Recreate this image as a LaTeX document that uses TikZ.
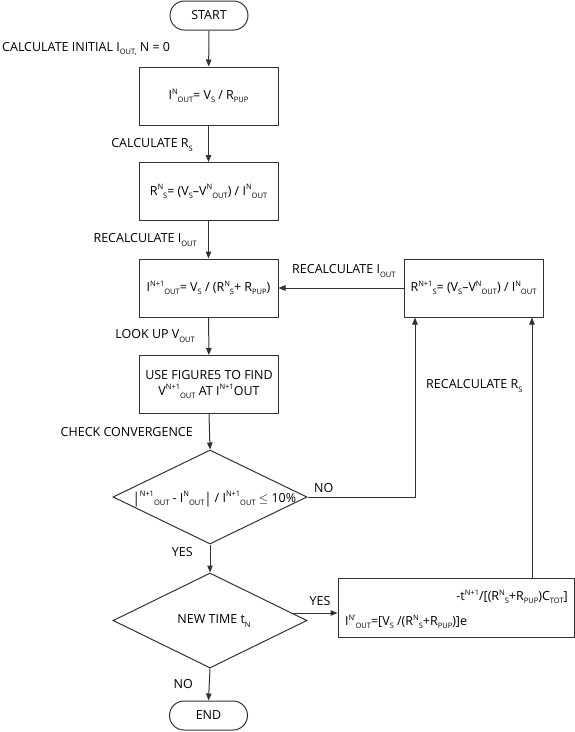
\documentclass[tikz,border=0pt]{standalone}
\usepackage{fontspec}
\setmainfont{Open Sans}
\usetikzlibrary{arrows.meta,shapes.geometric,calc}
\newcommand{\sbs}[1]{\raisebox{-0.5ex}{\fontsize{7.5}{7.5}\selectfont #1}}
\newcommand{\sps}[1]{\raisebox{0.8ex}{\fontsize{7.5}{7.5}\selectfont #1}}
\definecolor{ln}{RGB}{50,50,50}
\begin{document}
\begin{tikzpicture}[x=1pt,y=-1pt,
  every node/.style={font=\fontsize{12.5}{16}\selectfont, text=black},
  boxnode/.style={draw=ln, line width=1pt, minimum width=139pt, minimum height=58pt, inner sep=0pt, align=center},
  termnode/.style={draw=ln, line width=1pt, rounded corners=14.5pt, minimum width=78pt, minimum height=29pt, inner sep=0pt},
  dianode/.style={draw=ln, line width=1pt, diamond, minimum width=194pt, minimum height=94pt, inner sep=0pt},
  conn/.style={draw=ln, line width=1pt},
  arr/.style={conn, -{Triangle[length=7pt,width=5.5pt]}},
  lbl/.style={inner sep=0pt}
]
\useasboundingbox (0,0) rectangle (575,732);
% nodes
\node[termnode] (start) at (209,15.5) {START};
\node[boxnode] (b1) at (208.5,96) {I\sps{N}\sbs{OUT}= V\sbs{S} / R\sbs{PUP}};
\node[boxnode] (b2) at (208.5,191.5) {R\sps{N}\sbs{S}= (V\sbs{S}–V\sps{N}\sbs{OUT}) / I\sps{N}\sbs{OUT}};
\node[boxnode] (b3) at (208.5,288) {I\sps{N+1}\sbs{OUT}= V\sbs{S} / (R\sps{N}\sbs{S}+ R\sbs{PUP})};
\node[boxnode] (b4) at (209,384.5) {USE FIGURE5 TO FIND\\ V\sps{N+1}\sbs{OUT} AT I\sps{N+1}OUT};
\node[boxnode] (rb) at (473.5,288) {R\sps{N+1}\sbs{S}= (V\sbs{S}–V\sps{N}\sbs{OUT}) / I\sps{N}\sbs{OUT}};
\node[dianode] (d1) at (210,497) {};
\node[lbl] (d1t) at (214.5,499) {\raisebox{-0.15ex}{\scalebox{1}[1.2]{|}}\sps{N+1}\sbs{OUT} - I\sps{N}\sbs{OUT}\raisebox{-0.15ex}{\scalebox{1}[1.2]{|}} / I\sps{N+1}\sbs{OUT} $\leq$ 10\%};
\node[dianode, minimum height=95pt] (d2) at (210,620.5) {};
\node[lbl] (d2t) at (214,621) {NEW TIME t\sbs{N}};
\node[boxnode, minimum width=236pt, minimum height=59pt] (bb) at (456,607.5) {};
\node[lbl, anchor=east] (bbe) at (568,597) {-t\sps{N+1}/[(R\sps{N}\sbs{S}+R\sbs{PUP})C\sbs{TOT}]};
\node[lbl, anchor=west] (bbm) at (345,622) {I\sps{N'}\sbs{OUT}=[V\sbs{S} /(R\sps{N}\sbs{S}+R\sbs{PUP})]e};
\node[termnode] (end) at (208.5,715.5) {END};
% labels
\node[lbl, anchor=west] (l1) at (2,49) {CALCULATE INITIAL I\sbs{OUT,} N = 0};
\node[lbl, anchor=east] (l2) at (193,145) {CALCULATE R\sbs{S}};
\node[lbl, anchor=east] (l3) at (197,240) {RECALCULATE I\sbs{OUT}};
\node[lbl, anchor=east] (l4) at (195,336) {LOOK UP V\sbs{OUT}};
\node[lbl, anchor=east] (l5) at (193,432) {CHECK CONVERGENCE};
\node[lbl, anchor=west] (l6) at (292,271) {RECALCULATE I\sbs{OUT}};
\node[lbl, anchor=west] (l7) at (426,386) {RECALCULATE R\sbs{S}};
\node[lbl, anchor=west] (l8) at (314,488) {NO};
\node[lbl, anchor=east] (l9) at (193,552) {YES};
\node[lbl] (l10) at (320,601) {YES};
\node[lbl, anchor=east] (l11) at (193,684) {NO};
% connectors
\coordinate (cx1) at (415,0);
\coordinate (cx2) at (532,0);
\coordinate (d2y) at (292.7,613);
\draw[arr] (start) -- (b1);
\draw[arr] (b1) -- (b2);
\draw[arr] (b2) -- (b3);
\draw[arr] (b3) -- (b4);
\draw[arr] (b4.south) -- (d1.north);
\draw[arr] (d1.south) -- (d2.north);
\draw[arr] (d2.south) -- (end.north);
\draw[arr] (rb.west |- b3.east) -- (b3.east);
\draw[arr] (d1.east) -- (d1.east -| cx1) -- (rb.south -| cx1);
\draw[arr] (d2y) -- (d2y -| bb.west);
\draw[arr] (bb.north -| cx2) -- (rb.south -| cx2);
\end{tikzpicture}
\end{document}
